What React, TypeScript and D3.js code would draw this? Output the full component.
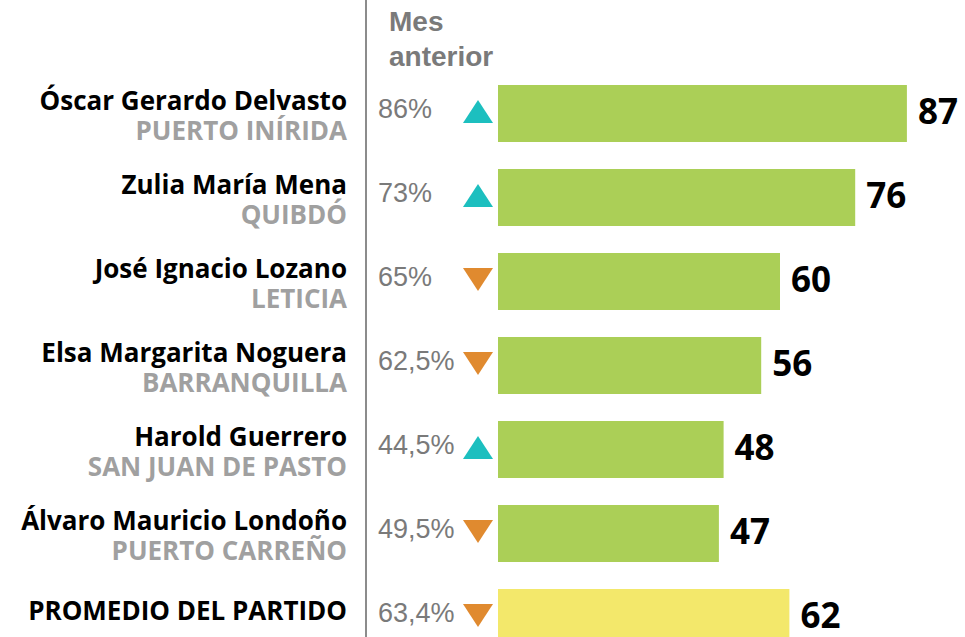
import { useEffect, useRef } from 'react'
import * as d3 from 'd3'

const names = [
  'Óscar Gerardo Delvasto',
  'Zulia María Mena',
  'José Ignacio Lozano',
  'Elsa Margarita Noguera',
  'Harold Guerrero',
  'Álvaro Mauricio Londoño',
  'PROMEDIO DEL PARTIDO',
]
const cities = ['PUERTO INÍRIDA', 'QUIBDÓ', 'LETICIA', 'BARRANQUILLA', 'SAN JUAN DE PASTO', 'PUERTO CARREÑO', '']
const values = [87, 76, 60, 56, 48, 47, 62]
const previous = [86, 73, 65, 62.5, 44.5, 49.5, 63.4]

const W = 965
const H = 637

const green = '#abcf57'
const yellow = '#f3e86b'
const teal = '#1cbfbf'
const orange = '#e08a2f'

const fmtPrev = (v: number) => String(v).replace('.', ',') + '%'

// wide, flat triangle pointing up (30 x 23)
const wideTriangle = {
  draw(ctx: d3.Path, _size: number) {
    ctx.moveTo(0, -11.5)
    ctx.lineTo(15, 11.5)
    ctx.lineTo(-15, 11.5)
    ctx.closePath()
  },
}

export default function App() {
  const svgRef = useRef<SVGSVGElement>(null)

  useEffect(() => {
    if (!svgRef.current) return
    const svg = d3.select(svgRef.current)
    svg.selectAll('*').remove()

    const rows = d3.range(values.length)

    const x = d3.scaleLinear().domain([0, 100]).range([498, 498 + 470])
    const y = d3.scaleBand<number>()
      .domain(rows)
      .range([85, 646])
      .paddingInner(27 / 84)
      .paddingOuter(0)

    const mid = (i: number) => (y(i) as number) + y.bandwidth() / 2

    // separator line
    svg.append('line')
      .attr('x1', 366).attr('x2', 366)
      .attr('y1', 0).attr('y2', H)
      .attr('stroke', '#8c8c8c')
      .attr('stroke-width', 2)

    // header
    const head = svg.append('text')
      .attr('font-family', 'Liberation Sans, Arial, sans-serif')
      .attr('font-weight', 700)
      .attr('font-size', 28)
      .attr('fill', '#7a7a7a')
    head.append('tspan').attr('x', 389).attr('y', 31).text('Mes')
    head.append('tspan').attr('x', 389).attr('y', 66).text('anterior')

    // bars
    svg.selectAll('.bar')
      .data(rows)
      .enter()
      .append('rect')
      .attr('class', 'bar')
      .attr('x', x(0))
      .attr('y', d => y(d) as number)
      .attr('width', d => x(values[d]) - x(0))
      .attr('height', y.bandwidth())
      .attr('fill', d => (d === values.length - 1 ? yellow : green))

    // value labels
    svg.selectAll('.val')
      .data(rows)
      .enter()
      .append('text')
      .attr('class', 'val')
      .attr('x', d => x(values[d]) + 11)
      .attr('y', d => mid(d) + 10)
      .attr('font-family', 'Open Sans, sans-serif')
      .attr('font-weight', 700)
      .attr('font-size', 35)
      .attr('fill', '#000')
      .text(d => values[d])

    // previous month
    svg.selectAll('.prev')
      .data(rows)
      .enter()
      .append('text')
      .attr('class', 'prev')
      .attr('x', 378)
      .attr('y', d => mid(d) + 4)
      .attr('font-family', 'Liberation Sans, Arial, sans-serif')
      .attr('font-size', 27)
      .attr('fill', '#7a7a7a')
      .text(d => fmtPrev(previous[d]))

    // trend arrows
    const tri = d3.symbol().type(wideTriangle as any)
    svg.selectAll('.arrow')
      .data(rows)
      .enter()
      .append('path')
      .attr('class', 'arrow')
      .attr('d', tri)
      .attr('transform', d => {
        const up = values[d] >= previous[d]
        return `translate(478,${mid(d) - 2}) rotate(${up ? 0 : 180})`
      })
      .attr('fill', d => (values[d] >= previous[d] ? teal : orange))

    // names
    svg.selectAll('.name')
      .data(rows)
      .enter()
      .append('text')
      .attr('class', 'name')
      .attr('x', 347)
      .attr('y', d => (cities[d] ? mid(d) - 4 : mid(d) + 2))
      .attr('text-anchor', 'end')
      .attr('font-family', 'Open Sans, sans-serif')
      .attr('font-weight', 700)
      .attr('font-size', 26)
      .attr('fill', '#000')
      .text(d => names[d])

    svg.selectAll('.city')
      .data(rows.filter(d => cities[d]))
      .enter()
      .append('text')
      .attr('class', 'city')
      .attr('x', 347)
      .attr('y', d => mid(d) + 26)
      .attr('text-anchor', 'end')
      .attr('font-family', 'Open Sans, sans-serif')
      .attr('font-weight', 700)
      .attr('font-size', 26)
      .attr('fill', '#a0a0a0')
      .text(d => cities[d])
  }, [])

  return (
    <svg
      ref={svgRef}
      width={W}
      height={H}
      style={{ position: 'absolute', left: 0, top: 0, background: '#fff' }}
    />
  )
}
